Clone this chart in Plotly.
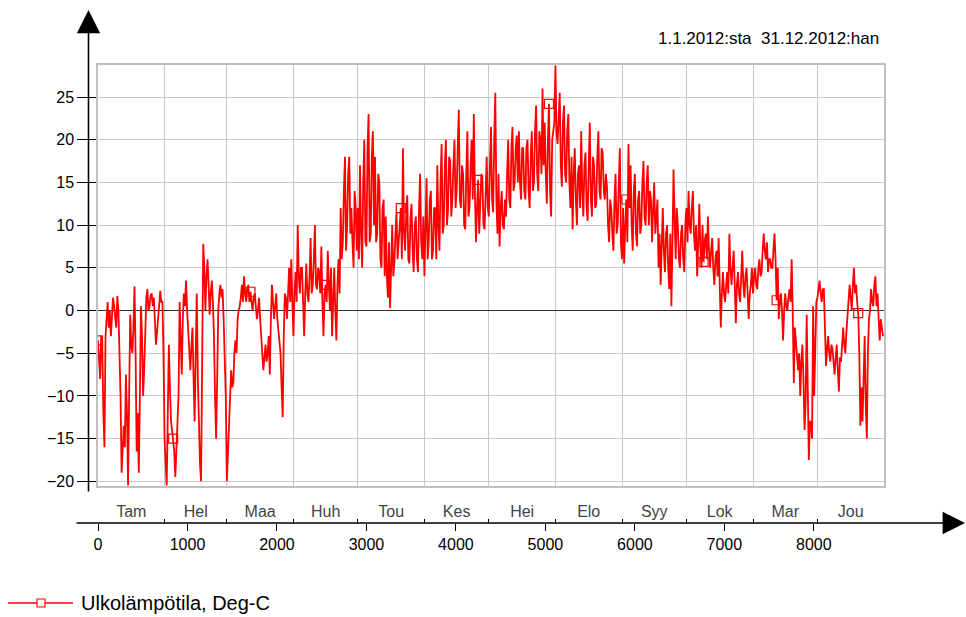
import plotly.graph_objects as go

# ---------------- data ----------------
months = ["Tam", "Hel", "Maa", "Huh", "Tou", "Kes", "Hei", "Elo", "Syy", "Lok", "Mar", "Jou"]
month_days = [31, 29, 31, 30, 31, 30, 31, 31, 30, 31, 30, 31]
hour_ticks = [0, 1000, 2000, 3000, 4000, 5000, 6000, 7000, 8000]
y_ticks = [-20, -15, -10, -5, 0, 5, 10, 15, 20, 25]

# reading at the start of each day (hour 24*d), Deg-C
temp_jan = [-3.5, -8, -4, -16, -0.5, -2, -3, 1.5, -1, 1.7, -5, -19, -13.5, -7.5, -20.5, -0.5,
            -5, 2.8, -16.5, -19, 0.5, -10, -0.5, 2.5, 0.5, 2, 1.5, -4, -1, 2.3, 1]
temp_feb = [-15, -20.5, -4, -13, -15, -19.5, -14.5, 1, -7.5, 2, 3.5, -3, -7, -2, -13, 2,
            -15, -20, 7.8, 0, 6, -0.5, 3.5, -3, -15, 0, 3, 2.5, -5]
temp_mar = [-20, -15, -7, -8.5, -3.5, -1, 0.5, 3, 4, 1, 3, 2.2, 0, 2, -1, 1.5, -3, -7, -4,
            -5, -7.5, 3, -1, 2, -2.5, -5, -12.5, 2, -1, 5, 6]
temp_apr = [-3, 4.5, 10, 2, 5, -3, 5.5, 1, 8.5, 3, 10, 2.5, 4.5, 7.5, -3, 3, 7, 0, -3, 5,
            -3.5, 6, 12, 8, 18, 10, 18, 12, 5, 12]
temp_may = [12, 17, 5, 20, 7.5, 23, 9, 21, 18, 9, 15, 5, 13, 11, 1.5, 0.3, 10, 5.5, 11.5, 8,
            12, 19, 7, 13.5, 5.5, 12.5, 4.5, 11, 4.5, 16, 6]
temp_jun = [4, 15.5, 8, 14, 7, 12, 17, 7, 19.5, 10, 20, 12, 17.5, 13, 20, 14, 23.5, 12, 16,
            9.5, 21, 12, 20, 23, 8, 15.3, 12, 15, 9.5, 18]
temp_jul = [11, 21.5, 11.5, 25.5, 9, 7.5, 14, 9.5, 11, 20, 12, 21.5, 15, 20.5, 21, 13, 19, 13,
            20, 12, 21, 15, 24, 14, 20, 26, 22, 12.5, 24.2, 11, 21]
temp_aug = [28.7, 19.5, 25.5, 14.5, 24, 15, 23, 12, 9.5, 19, 10, 17, 21, 11, 18.5, 10.5, 22,
            11, 17, 12.5, 21, 13, 18.5, 13, 14.5, 8, 12, 7, 16, 10, 19]
temp_sep = [6, 5.5, 13, 19.5, 17, 7, 16, 7.5, 14, 10, 17.5, 10, 17, 14, 8, 15, 11, 5, 3, 12,
            4.5, 10, 2.5, 0.5, 16.5, 6, 10, 5, 10, 4.5]
temp_oct = [12, 14, 9, 14, 7, 4, 12.5, 5, 5.7, 9, 11, 5, 8.5, 3, 7, 8.5, -2, 4.5, 1, 4.5, 9,
            3, 7, -1.5, 4.5, 1, 7, 1.5, 5, -1, 3]
temp_nov = [2, 5, 2.5, 6, 4.5, 9, 6, 4.5, 6, 5, 9, 1.2, -1, 2, -3.5, 2, 0, 2.5, 6, -8.5, -4,
            -7, -10, -4, -14, -0.5, -17.5, -13, 0.5, -3.5]
temp_dec = [1.5, 3.5, 1, 2.5, -6.5, -3, -6, -4.5, -7.5, -4, -9.5, -6, -2, -5, -1, 3, 0, 5, 3,
            -0.3, -13.5, -13, -3, -15, -1, 2.5, 0.5, 4, 2, -3.5, -2.5]

# reading at mid-day of each day (hour 24*d + 12), Deg-C
half_jan = [-6, -3, -12, -3, 1, 0, -1, 0.5, -2, 0, -10, -15, -16, -12, -10, -4, -2, -5, -12,
            -10, -3, -7, 1.5, 0, 1.8, 0.5, -1, -2.5, 0.5, 1, -5]
half_feb = [-18, -12, -9, -14, -16.5, -16, -10, -3, -1, 0.5, 0, -5, -4, -8, -5, -8, -18, -2,
            5, 4, 3, 2, 1, -10, -8, 2, 1.5, -1, -10]
half_mar = [-17, -10, -9, -5, -5, 0, 1.5, 1, 2, 2.5, 1, 1, 1.5, 0.5, 0, -1, -5, -5.5, -6, -3,
            -1, 1, 0.5, -1, -4, -9, -3, 1.5, 2, 1, 1]
half_apr = [2, 1, 4, 5, 1, 2, 2, 4, 2, 6, 3, 5, 2, 1, 2, 1, 3, 5, 1, 0, 3, 2, 6, 14, 7, 16, 9,
            8, 14, 7]
half_may = [6, 9, 15, 8, 19, 8, 18, 10, 8, 16, 6, 12, 4, 4, 8, 5, 4, 9, 6, 11, 6, 9, 11, 6, 11,
            7, 10, 6, 12, 8, 11]
half_jun = [10, 6, 13, 6, 12, 6, 10, 15, 9, 17, 10, 18, 11, 17, 12, 19, 13, 17, 10, 16, 11, 17,
            13, 14, 12, 9, 16, 10, 16, 12]
half_jul = [17, 13, 20, 13, 16, 12, 10, 13, 16, 13, 19, 14, 19, 15, 15, 19, 14, 19, 14, 18, 14,
            21, 16, 21, 16, 17, 16, 20, 14, 20, 22]
half_aug = [21, 24, 17, 22, 16, 21, 15, 18, 16, 13, 16, 12, 14, 17, 12, 17, 13, 18, 12, 18, 14,
            19, 14, 16, 10, 13, 9, 13, 9, 15, 8]
half_sep = [12, 10, 8, 12, 10, 14, 9, 13, 9, 15, 11, 15, 10, 13, 12, 9, 13, 9, 8, 7, 9, 5, 9, 8,
            11, 12, 6, 9, 6, 10]
half_oct = [8, 10, 12, 9, 10, 8, 7, 10, 8, 6, 7, 7, 5, 6, 4, 3, 2, 2, 3, 2, 5, 5, 3, 3, 2, 4, 3,
            4, 2, 2, 5]
half_nov = [4, 3, 5, 4, 7, 7, 8, 6, 5, 7, 6, 5, 1, 0, 0, 0.5, 1.5, 1, 0, -2, -6, -5, -6, -8,
            -11, -9, -13, -15, -10, 1]
half_dec = [3, 2, 2.5, -2, -4.5, -5, -4, -6, -5.5, -7, -5.5, -4, -4, -2.5, 1, 1.5, 3, 2, 1, -5,
            -9, -8, -11, -5, 0, 1, 3, 0.5, -1, -1, -3]

# days whose start-of-day reading carries an open-square marker
marker_days = [0, 35, 71, 106, 141, 177, 210, 246, 282, 316, 354]

series_name = "Ulkolämpötila, Deg-C"
period_text = "1.1.2012:sta \u00a031.12.2012:han"

# ---------------- derived ----------------
day_vals = (temp_jan + temp_feb + temp_mar + temp_apr + temp_may + temp_jun +
            temp_jul + temp_aug + temp_sep + temp_oct + temp_nov + temp_dec)
half_vals = (half_jan + half_feb + half_mar + half_apr + half_may + half_jun +
             half_jul + half_aug + half_sep + half_oct + half_nov + half_dec)
hours, temps = [], []
for i, (a, b) in enumerate(zip(day_vals, half_vals)):
    hours += [24 * i, 24 * i + 12]
    temps += [a, b]

bounds = [0]
for d in month_days:
    bounds.append(bounds[-1] + 24 * d)
centers = [(bounds[i] + bounds[i + 1]) / 2 for i in range(12)]
xmax = bounds[-1]

mk_x = [24 * d for d in marker_days]
mk_y = [day_vals[d] for d in marker_days]

# ---------------- layout geometry ----------------
W, H = 966, 617
L, R, T, B = 98, 82, 65, 94
PW, PH = W - L - R, H - T - B


def px(x):
    return (x - L) / PW


def py(y):
    return (H - B - y) / PH


FONT = "Liberation Sans, Arial, sans-serif"
RED = "#ff0000"
GRID = "#c8c8c8"

fig = go.Figure()
fig.add_trace(go.Scatter(x=hours, y=temps, mode="lines",
                         line=dict(color=RED, width=1.8),
                         showlegend=False, hoverinfo="skip"))
fig.add_trace(go.Scatter(x=mk_x, y=mk_y, mode="markers",
                         marker=dict(symbol="square-open", size=9, color=RED,
                                     line=dict(width=1.2, color=RED)),
                         showlegend=False, hoverinfo="skip"))
for ax in ["x2", "x3", "x4"]:
    fig.add_trace(go.Scatter(x=[None], y=[None], xaxis=ax, yaxis="y",
                             showlegend=False, hoverinfo="skip"))

ydom0 = py(486)
fig.update_layout(
    width=W, height=H,
    margin=dict(l=L, r=R, t=T, b=B, pad=0),
    paper_bgcolor="white", plot_bgcolor="white",
    font=dict(family=FONT, size=16, color="#000000"),
    showlegend=False,
    xaxis=dict(range=[0, xmax], tickvals=bounds, showticklabels=False, ticks="",
               showgrid=True, gridcolor=GRID, gridwidth=1.4,
               showline=True, linecolor="#c0c0c0", linewidth=1.5, mirror=True,
               zeroline=False),
    yaxis=dict(range=[-20.55, 28.75], domain=[ydom0, 1], tickvals=y_ticks,
               ticks="outside", ticklen=19, tickcolor="#000000", tickwidth=1.3,
               showgrid=True, gridcolor=GRID, gridwidth=1.4,
               zeroline=True, zerolinecolor="#303030", zerolinewidth=1.4,
               showline=True, linecolor="#c0c0c0", linewidth=1.5, mirror=True,
               tickfont=dict(size=16)),
    xaxis2=dict(overlaying="x", anchor="free", position=0, range=[0, xmax],
                tickvals=hour_ticks, ticks="outside", ticklen=7, tickcolor="#000000",
                tickwidth=1.3, showgrid=False, zeroline=False, showline=False,
                tickfont=dict(size=16)),
    xaxis3=dict(overlaying="x", anchor="free", position=0, range=[0, xmax],
                tickvals=bounds, ticks="inside", ticklen=4, tickcolor="#000000",
                tickwidth=1.3, showticklabels=False, showgrid=False, zeroline=False,
                showline=False),
    xaxis4=dict(overlaying="x", anchor="free", position=0, range=[0, xmax],
                tickvals=centers, ticktext=months, ticks="", ticklabelposition="inside",
                showgrid=False, zeroline=False, showline=False,
                tickfont=dict(size=16)),
)

annotations = [
    dict(x=px(768), y=py(38), xref="paper", yref="paper", text=period_text,
         showarrow=False, xanchor="center", yanchor="middle",
         font=dict(size=17, color="#000000")),
    # vertical axis with arrow
    dict(x=px(88.5), y=py(10), xref="paper", yref="paper", text="",
         showarrow=True, ax=0, ay=483, axref="pixel", ayref="pixel",
         arrowhead=2, arrowsize=2.9, arrowwidth=1.6, arrowcolor="#000000", standoff=0),
    # horizontal axis with arrow
    dict(x=px(965), y=py(523), xref="paper", yref="paper", text="",
         showarrow=True, ax=-890, ay=0, axref="pixel", ayref="pixel",
         arrowhead=2, arrowsize=2.8, arrowwidth=1.6, arrowcolor="#000000", standoff=0),
    # legend text
    dict(x=px(79), y=py(603), xref="paper", yref="paper", text=series_name,
         showarrow=False, xanchor="left", yanchor="middle",
         font=dict(size=20, color="#000000")),
]
shapes = [
    dict(type="line", xref="paper", yref="paper", x0=px(8), x1=px(73),
         y0=py(603), y1=py(603), line=dict(color=RED, width=1.4)),
    dict(type="rect", xref="paper", yref="paper", x0=px(37), x1=px(45),
         y0=py(599), y1=py(607), line=dict(color=RED, width=1.2), fillcolor="white"),
]
fig.update_layout(annotations=annotations, shapes=shapes)

fig.write_html("out.html")
